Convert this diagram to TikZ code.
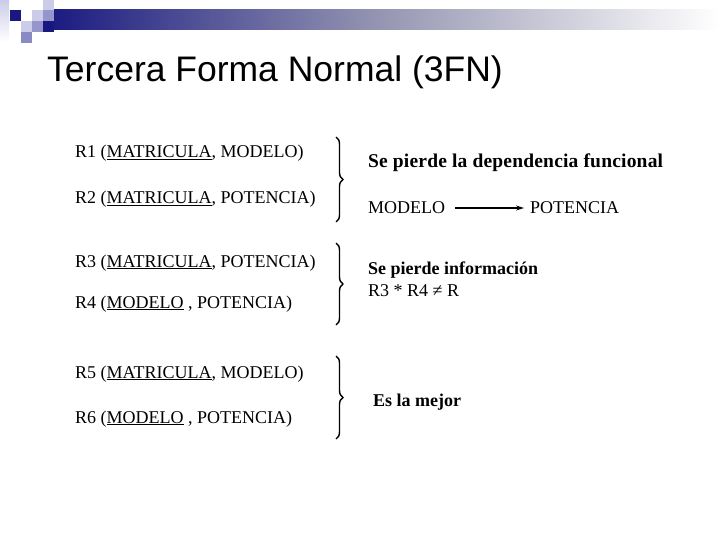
\documentclass[tikz,border=0pt]{standalone}
\usepackage{fontspec}
\setmainfont{Liberation Serif}
\newfontfamily\titlefont{Liberation Sans}
\newfontfamily\widebold[LetterSpace=1]{Liberation Serif Bold}
\usetikzlibrary{decorations.pathreplacing,arrows.meta}
\definecolor{navy}{RGB}{24,24,128}
\definecolor{midbl}{RGB}{150,150,204}
\definecolor{ltbl}{RGB}{204,204,232}
\definecolor{bargray}{RGB}{150,150,178}
\newcommand{\ulx}[1]{\underline{#1}}
\begin{document}
\begin{tikzpicture}[x=1pt,y=-1pt,
  txt/.style={anchor=base west,inner sep=0pt,font=\fontsize{18}{21}\selectfont},
  boldtxt/.style={anchor=base west,inner sep=0pt,font=\fontsize{18}{21}\selectfont\bfseries},
  brc/.style={decorate,decoration={brace,amplitude=7pt},line width=1.4pt}]
\useasboundingbox (0,0) rectangle (720,540);
% decoration
\shade[top color=ltbl,bottom color=white] (0,0) rectangle (9,42);
\shade[left color=navy,right color=white,middle color=bargray] (43,10) rectangle (720,30);
\fill[navy] (10,10) rectangle (21,21);
\fill[ltbl] (32,10) rectangle (43,21);
\fill[ltbl] (43,0) rectangle (54,10);
\fill[midbl] (43,10) rectangle (54,21);
\fill[ltbl] (21,21) rectangle (32,32);
\fill[midbl] (32,21) rectangle (43,32);
\fill[navy] (43,21) rectangle (54,32);
\fill[midbl!90!navy] (21,32) rectangle (32,43);
% title
\node[anchor=base west,inner sep=0pt,font=\titlefont\fontsize{35.5}{40}\selectfont] (title) at (47,82) {Tercera Forma Normal (3FN)};
% relations
\node[txt] (r1) at (75,158) {R1 (\ulx{MATRICULA}, MODELO)};
\node[txt] (r2) at (75,204) {R2 (\ulx{MATRICULA}, POTENCIA)};
\node[txt] (r3) at (75,267) {R3 (\ulx{MATRICULA}, POTENCIA)};
\node[txt] (r4) at (75,308) {R4 (\ulx{MODELO} , POTENCIA)};
\node[txt] (r5) at (75,378) {R5 (\ulx{MATRICULA}, MODELO)};
\node[txt] (r6) at (75,423) {R6 (\ulx{MODELO} , POTENCIA)};
% braces
\coordinate (b1t) at (336,137);
\coordinate (b1b) at (336,222);
\coordinate (b2t) at (336,243);
\coordinate (b2b) at (336,325);
\coordinate (b3t) at (336,356);
\coordinate (b3b) at (336,439);
\draw[brc] (b1t) -- (b1b);
\draw[brc] (b2t) -- (b2b);
\draw[brc] (b3t) -- (b3b);
% right texts
\node[anchor=base west,inner sep=0pt,font=\widebold\fontsize{19.5}{22}\selectfont] (t1) at (368,168) {Se pierde la dependencia funcional};
\node[txt] (m) at (368,214) {MODELO};
\node[txt] (p) at (530,214) {POTENCIA};
\draw[line width=1.1pt,-{Stealth[length=8pt,width=5pt]}] ([xshift=10pt]m.east |- 0,208) -- ([xshift=-6pt]p.west |- 0,208);
\node[boldtxt] (t2) at (368,274) {Se pierde información};
\node[txt] (t3) at (368,296) {R3 * R4 ≠ R};
\node[boldtxt] (t4) at (373,406) {Es la mejor};
\end{tikzpicture}
\end{document}
